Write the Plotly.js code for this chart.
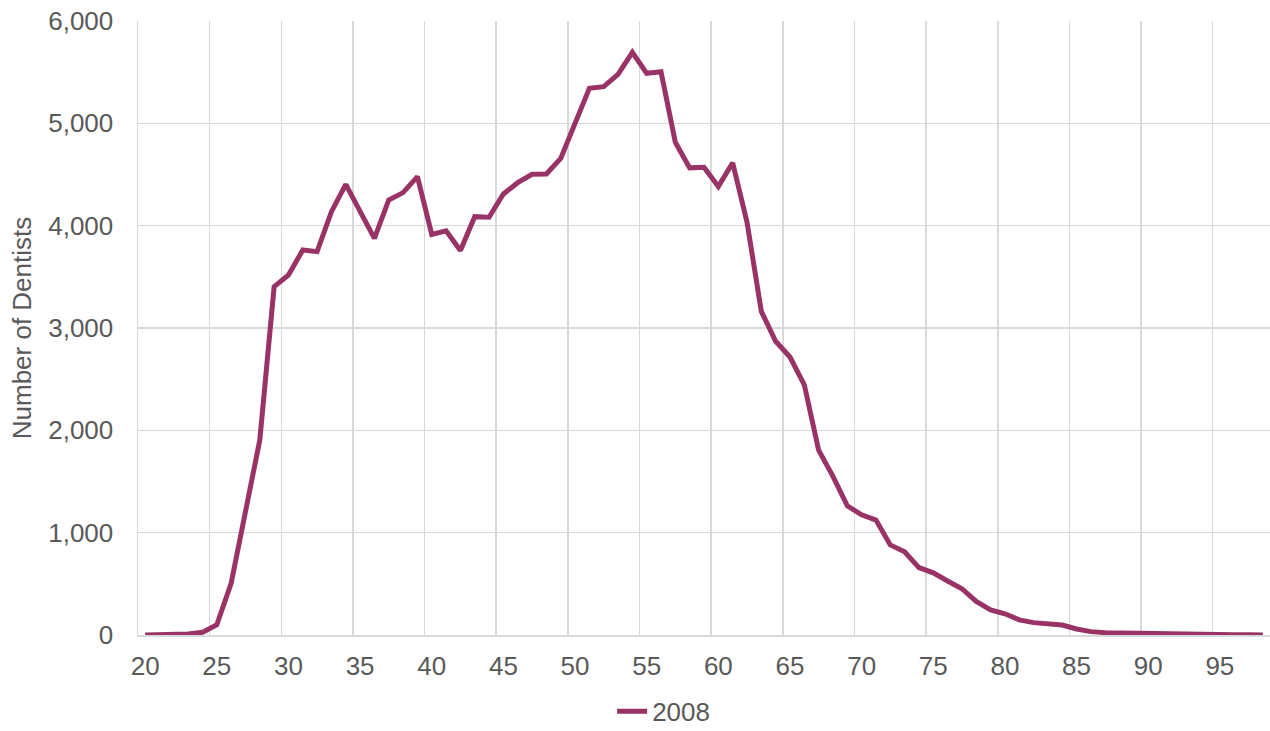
<!DOCTYPE html>
<html>
<head>
<meta charset="utf-8">
<script src="https://cdn.plot.ly/plotly-3.0.1.min.js"></script>
<style>
html,body{margin:0;padding:0;background:#fff;}
#chart{width:1270px;height:731px;}
</style>
</head>
<body>
<div id="chart"></div>
<script>
const ages = [20,21,22,23,24,25,26,27,28,29,30,31,32,33,34,35,36,37,38,39,40,41,42,43,44,45,46,47,48,49,50,51,52,53,54,55,56,57,58,59,60,61,62,63,64,65,66,67,68,69,70,71,72,73,74,75,76,77,78,79,80,81,82,83,84,85,86,87,88,89,90,91,92,93,94,95,96,97,98];
const dentists2008 = [0,2,4,10,26,100,505,1200,1905,3404,3518,3762,3746,4137,4404,4140,3876,4251,4323,4479,3915,3950,3758,4088,4082,4310,4420,4502,4505,4658,5005,5342,5358,5479,5694,5489,5505,4815,4565,4570,4382,4615,4035,3162,2870,2716,2445,1807,1550,1262,1174,1123,880,813,659,607,528,452,328,246,207,148,121,108,98,59,33,23,20,16,10,8,6,5,4,3,2,2,1];
const xTickVals = [20,25,30,35,40,45,50,55,60,65,70,75,80,85,90,95];
const seriesName = '2008';
const yTitle = 'Number of Dentists';

const font = {family: '"Liberation Sans", Arial, sans-serif', size: 26, color: '#595959'};
const grid = '#d9d9d9';

const trace = {
  x: ages, y: dentists2008, type: 'scatter', mode: 'lines', name: seriesName,
  line: {color: '#993366', width: 5}
};

const layout = {
  width: 1270, height: 731,
  margin: {l: 138, r: 0, t: 21, b: 96, autoexpand: false},
  paper_bgcolor: '#ffffff', plot_bgcolor: '#ffffff',
  font: font,
  showlegend: true,
  legend: {orientation: 'h', xref: 'container', yref: 'container', x: 0.482, xanchor: 'left', y: 0.027, yanchor: 'middle', font: font, bgcolor: 'rgba(0,0,0,0)'},
  xaxis: {
    range: [19.5, 98.5], tickmode: 'array', tickvals: xTickVals, automargin: false,
    showgrid: false, zeroline: false, ticks: '', ticklabelstandoff: 7,
    showline: true, linecolor: grid, linewidth: 1.5,
    minor: {tickmode: 'linear', tick0: 19.5, dtick: 5, showgrid: true, gridcolor: grid, gridwidth: 1.5, ticks: ''},
    tickfont: font
  },
  yaxis: {
    range: [0, 6000], dtick: 1000, tickformat: ',', automargin: false,
    showgrid: true, gridcolor: grid, gridwidth: 1.5,
    zeroline: false, showline: true, linecolor: grid, linewidth: 1.5,
    ticks: '', ticklabelstandoff: 18,
    tickfont: font,
    title: {text: yTitle, font: font, standoff: 9}
  }
};

Plotly.newPlot('chart', [trace], layout, {displayModeBar: false, staticPlot: true});
</script>
</body>
</html>
